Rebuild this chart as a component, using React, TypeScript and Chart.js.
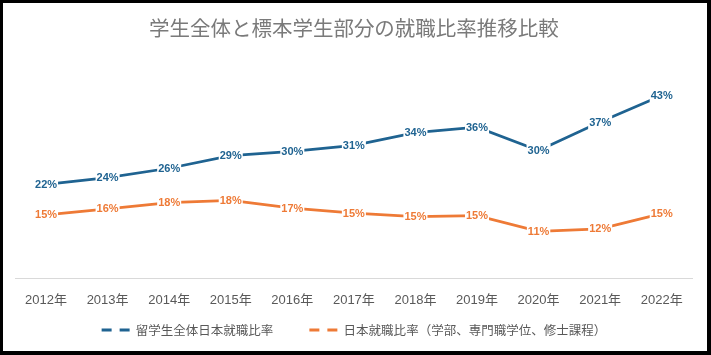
import React, { useEffect, useRef } from 'react';
import { Chart, registerables } from 'chart.js';

Chart.register(...registerables);

const years = ['2012年', '2013年', '2014年', '2015年', '2016年', '2017年', '2018年', '2019年', '2020年', '2021年', '2022年'];
const allIntlStudents = [22.2, 23.8, 26.0, 29.0, 30.0, 31.4, 34.4, 35.7, 30.2, 36.9, 43.2];
const sampleStudents = [15.0, 16.4, 17.9, 18.4, 16.6, 15.4, 14.6, 14.8, 11.1, 11.7, 15.3];
const seriesNames = ['留学生全体日本就職比率', '日本就職比率（学部、専門職学位、修士課程）'];
const titleText = '学生全体と標本学生部分の就職比率推移比較';

const BLUE = '#1F6391';
const ORANGE = '#EE7A36';
const LEGEND_FONT = 12.5;
const LEGEND_TEXT_Y = 327;

const legendShift = {
  id: 'legendShift',
  afterLayout(chart: any) {
    const lg = chart.legend;
    if (!lg) return;
    const pad = lg.options.labels.padding;
    const newTop = LEGEND_TEXT_Y - pad - LEGEND_FONT / 2;
    lg.top = newTop;
    lg.bottom = chart.height;
    lg.height = lg.bottom - lg.top;
  },
};

const pointLabels = {
  id: 'pointLabels',
  afterDatasetsDraw(chart: any) {
    const ctx = chart.ctx;
    ctx.save();
    ctx.font = 'bold 11px "Liberation Sans", Arial, sans-serif';
    ctx.textAlign = 'center';
    ctx.textBaseline = 'middle';
    chart.data.datasets.forEach((ds: any, di: number) => {
      const meta = chart.getDatasetMeta(di);
      meta.data.forEach((pt: any, i: number) => {
        const txt = Math.round(ds.data[i]) + '%';
        const w = ctx.measureText(txt).width;
        ctx.fillStyle = '#ffffff';
        ctx.fillRect(pt.x - w / 2 - 1, pt.y - 7, w + 2, 14);
        ctx.fillStyle = ds.borderColor;
        ctx.fillText(txt, pt.x, pt.y + 0.5);
      });
    });
    ctx.restore();
  },
};

export default function App() {
  const ref = useRef<HTMLCanvasElement>(null);
  useEffect(() => {
    if (!ref.current) return;
    const chart = new Chart(ref.current, {
      type: 'line',
      data: {
        labels: years,
        datasets: [
          {
            label: seriesNames[0],
            data: allIntlStudents,
            borderColor: BLUE,
            backgroundColor: BLUE,
            borderWidth: 2.75,
            pointRadius: 0,
            tension: 0,
          },
          {
            label: seriesNames[1],
            data: sampleStudents,
            borderColor: ORANGE,
            backgroundColor: ORANGE,
            borderWidth: 2.75,
            pointRadius: 0,
            tension: 0,
          },
        ],
      },
      options: {
        responsive: false,
        animation: false,
        layout: { padding: { left: 12.25, right: 14.5, top: 0, bottom: 0 } },
        scales: {
          x: {
            offset: true,
            grid: { display: false, drawTicks: false, offset: true },
            border: { display: true, color: '#d9d9d9', width: 1 },
            ticks: {
              padding: 14,
              color: '#595959',
              font: { size: 13, family: '"Liberation Sans", "Noto Sans CJK JP", sans-serif' },
              maxRotation: 0,
              autoSkip: false,
            },
          },
          y: {
            display: false,
            min: 0,
            max: 50,
          },
        },
        plugins: {
          title: {
            display: true,
            text: titleText,
            color: '#7a7a7a',
            font: { size: 20.5, weight: 'normal', family: '"Noto Sans CJK JP", sans-serif', lineHeight: 1.2 },
            padding: { top: 13, bottom: 26 },
          },
          legend: {
            position: 'bottom',
            maxHeight: 29,
            labels: {
              usePointStyle: true,
              pointStyleWidth: 28,
              padding: 36,
              color: '#595959',
              font: { size: LEGEND_FONT, family: '"Noto Sans CJK JP", sans-serif' },
              generateLabels: (c: any) =>
                c.data.datasets.map((ds: any, i: number) => ({
                  text: ds.label,
                  fillStyle: ds.borderColor,
                  strokeStyle: ds.borderColor,
                  lineWidth: 3,
                  lineDash: [10, 8],
                  lineDashOffset: 0,
                  lineCap: 'butt',
                  pointStyle: 'line',
                  rotation: 0,
                  hidden: false,
                  datasetIndex: i,
                  fontColor: '#595959',
                })),
            },
          },
          tooltip: { enabled: false },
        },
      },
      plugins: [legendShift, pointLabels],
    });
    return () => chart.destroy();
  }, []);

  return (
    <div style={{ position: 'fixed', left: 0, top: 0, width: 711, height: 355, background: '#000' }}>
      <div style={{ position: 'absolute', left: 3, top: 3, width: 704, height: 348, background: '#fff' }}>
        <canvas ref={ref} width={704} height={348} style={{ display: 'block', width: 704, height: 348 }} />
      </div>
    </div>
  );
}
